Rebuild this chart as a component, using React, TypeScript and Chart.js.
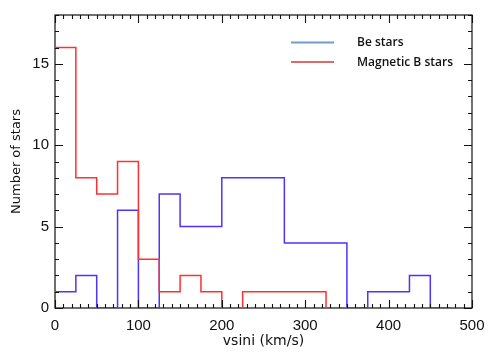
import React, { useEffect, useRef } from 'react';
import { Chart, registerables } from 'chart.js';

Chart.register(...registerables);

// Histogram bins (width 25 km/s), starting at 0
const binWidth = 25;
const magneticCounts = [16, 8, 7, 9, 3, 1, 2, 1, 0, 1, 1, 1, 1, 0];
const beCounts = [1, 2, 0, 6, 0, 7, 5, 5, 8, 8, 8, 4, 4, 4, 0, 1, 1, 2, 0];
const xTickLabels = [0, 100, 200, 300, 400, 500];
const yTickLabels = [0, 5, 10, 15];
const legendLabels = ['Be stars', 'Magnetic B stars'];
const legendColors = ['#6f9dd0', '#dd6b6b'];

function toSteps(counts: number[]) {
  const pts: { x: number; y: number }[] = [{ x: 0, y: 0 }];
  counts.forEach((c, i) => pts.push({ x: i * binWidth, y: c }));
  pts.push({ x: counts.length * binWidth, y: 0 });
  return pts;
}

const framePlugin = {
  id: 'frame',
  beforeDatasetsDraw(chart: any) {
    const { ctx, chartArea } = chart;
    ctx.save();
    ctx.strokeStyle = '#111';
    ctx.lineWidth = 1.2;
    ctx.strokeRect(chartArea.left, chartArea.top, chartArea.right - chartArea.left, chartArea.bottom - chartArea.top);
    ctx.restore();
  },
  afterDatasetsDraw(chart: any) {
    const { ctx, chartArea, scales } = chart;
    const xs = scales.x;
    const ys = scales.y;
    ctx.save();
    ctx.strokeStyle = '#111';
    ctx.lineWidth = 1.1;
    ctx.beginPath();
    for (let v = 0; v <= 500; v += 10) {
      const px = Math.round(xs.getPixelForValue(v)) + 0.5;
      const len = v % 100 === 0 ? 8 : 4;
      ctx.moveTo(px, chartArea.bottom);
      ctx.lineTo(px, chartArea.bottom - len);
      ctx.moveTo(px, chartArea.top);
      ctx.lineTo(px, chartArea.top + len);
    }
    for (let v = 0; v <= 18; v += 1) {
      const py = Math.round(ys.getPixelForValue(v)) + 0.5;
      const len = v % 5 === 0 ? 8 : 4;
      ctx.moveTo(chartArea.left, py);
      ctx.lineTo(chartArea.left + len, py);
      ctx.moveTo(chartArea.right, py);
      ctx.lineTo(chartArea.right - len, py);
    }
    ctx.stroke();

    // legend
    const lx0 = 291;
    const lx1 = 334;
    const tx = 357;
    const rows = [42.5, 62];
    ctx.font = '600 12px "Open Sans", sans-serif';
    ctx.textBaseline = 'middle';
    ctx.textAlign = 'left';
    legendLabels.forEach((lab, i) => {
      ctx.strokeStyle = legendColors[i];
      ctx.lineWidth = 2.2;
      ctx.beginPath();
      ctx.moveTo(lx0, rows[i]);
      ctx.lineTo(lx1, rows[i]);
      ctx.stroke();
      ctx.fillStyle = '#111';
      ctx.fillText(lab, tx, rows[i] + 0.5);
    });
    ctx.restore();
  },
};

export default function App() {
  const ref = useRef<HTMLCanvasElement>(null);
  useEffect(() => {
    if (!ref.current) return;
    const chart = new Chart(ref.current, {
      type: 'line',
      data: {
        datasets: [
          {
            label: 'Magnetic B stars',
            data: toSteps(magneticCounts),
            borderColor: '#ff3030',
            borderWidth: 1.5,
            stepped: true,
            pointRadius: 0,
            fill: false,
          },
          {
            label: 'Be stars',
            data: toSteps(beCounts),
            borderColor: '#4f32ff',
            borderWidth: 1.5,
            stepped: true,
            pointRadius: 0,
            fill: false,
          },
        ],
      },
      options: {
        animation: false,
        responsive: false,
        devicePixelRatio: 1,
        layout: { padding: { top: 12, right: 26, left: 0, bottom: 0 } },
        plugins: { legend: { display: false }, tooltip: { enabled: false } },
        scales: {
          x: {
            type: 'linear',
            min: 0,
            max: 500,
            afterBuildTicks: (s: any) => {
              s.ticks = xTickLabels.map((v) => ({ value: v }));
            },
            afterFit: (s: any) => {
              s.height = 48;
            },
            grid: { display: false, drawTicks: false },
            border: { display: false },
            ticks: {
              color: '#111',
              padding: 9,
              maxRotation: 0,
              autoSkip: false,
              font: { family: '"Liberation Sans", Arial, sans-serif', size: 15 },
            },
            title: {
              display: true,
              text: 'vsini (km/s)',
              color: '#111',
              padding: { top: 0, bottom: 6 },
              font: { family: '"DejaVu Sans", sans-serif', size: 14 },
            },
          },
          y: {
            type: 'linear',
            min: 0,
            max: 18,
            afterBuildTicks: (s: any) => {
              s.ticks = yTickLabels.map((v) => ({ value: v }));
            },
            afterFit: (s: any) => {
              s.width = 55;
            },
            grid: { display: false, drawTicks: false },
            border: { display: false },
            ticks: {
              color: '#111',
              padding: 6,
              autoSkip: false,
              font: { family: '"Liberation Sans", Arial, sans-serif', size: 15 },
            },
            title: {
              display: true,
              text: 'Number of stars',
              color: '#111',
              padding: { top: 9, bottom: 0 },
              font: { family: '"DejaVu Sans", sans-serif', size: 13 },
            },
          },
        },
      },
      plugins: [framePlugin],
    } as any);
    return () => chart.destroy();
  }, []);

  return (
    <div style={{ position: 'fixed', left: 0, top: 0, width: 498, height: 356, background: '#fff' }}>
      <canvas ref={ref} width={498} height={356} style={{ width: 498, height: 356, display: 'block' }} />
    </div>
  );
}
